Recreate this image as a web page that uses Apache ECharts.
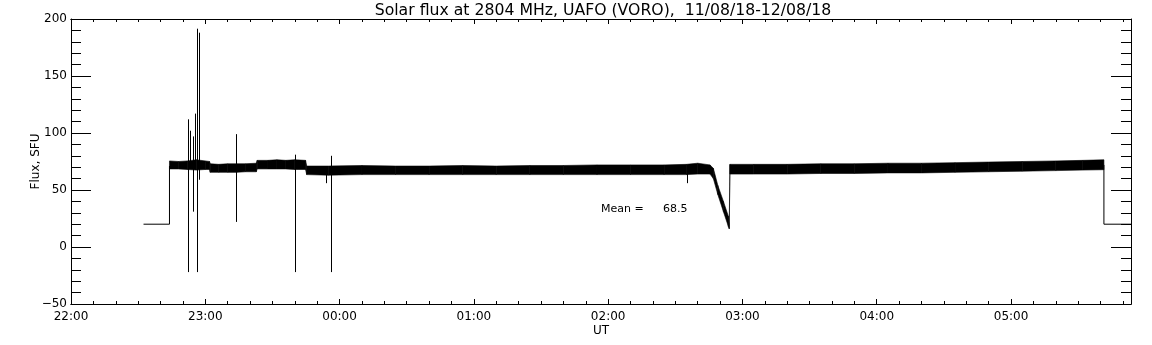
<!DOCTYPE html>
<html><head><meta charset="utf-8">
<script src="https://cdn.jsdelivr.net/npm/echarts@6/dist/echarts.min.js"></script>
<style>html,body{margin:0;padding:0;background:#fff}#c{width:1152px;height:345px}</style>
</head><body><div id="c"></div>
<script>
// ---- text ----
const titleText = 'Solar flux at 2804 MHz, UAFO (VORO),  11/08/18-12/08/18';
const xAxisName = 'UT';
const yAxisName = 'Flux, SFU';
const meanLabel = 'Mean =';
const meanValue = '68.5';

// ---- axes (x in minutes since 22:00 UT) ----
const startHour = 22;
const xMin = 0, xMax = 473.6;
const yMin = -50, yMax = 200;

// ---- flat (zero-signal) parts at the start and end ----
const startStepTimes  = [32.4, 44.0, 44.0];
const startStepValues = [20, 20, 71];
const endStepTimes    = [461.5, 461.5, 473.6];
const endStepValues   = [72, 20, 20];

// ---- noisy flux band: time, lower edge, upper edge ----
const bandTimes = [44.0, 48, 52, 56, 60, 61.9,
  62.2, 66, 70, 74, 78, 82.8,
  83.2, 88, 92, 96, 100, 104.8,
  105.3, 115, 130, 145, 160, 175, 190, 205, 220, 235, 250, 265, 275, 280, 285.5,
  287, 289, 291.5, 293.7, 294.1,
  294.4, 305, 320, 335, 350, 365, 380, 395, 410, 425, 440, 452, 461.5];
const bandLow = [68.5, 68.5, 68, 67.5, 68, 68,
  65.5, 65.5, 65.5, 65.5, 66, 66,
  68.5, 68.5, 68.5, 68.5, 68, 68,
  63.5, 63, 63.5, 63.5, 63.5, 63.5, 63.5, 63.5, 63.5, 63.5, 63.5, 63.5, 63.5, 64, 64,
  60, 46, 31, 18, 16,
  64, 64, 64, 64.5, 64.5, 65, 65, 65.5, 66, 66.5, 67, 67.5, 67.8];
const bandHigh = [75.5, 75, 75.5, 76.5, 75.5, 75,
  73, 72.5, 73, 73, 73, 73.5,
  76, 76, 76.5, 76, 76.5, 76,
  71, 71, 71.5, 71, 71, 71.5, 71, 71.5, 71.5, 72, 72, 72, 72.5, 73.5, 72,
  69, 54, 40, 27, 20,
  72.5, 72.5, 72.5, 73, 73, 73.5, 73.5, 74, 74.5, 75, 75.5, 76, 76.5];

// ---- spikes: time, low end, high end ----
const spikeTimes = [52.2, 53.0, 54.3, 54.7, 55.6, 56.5, 57.0, 73.5, 100.3, 114.0, 116.2, 275.2];
const spikeLows  = [-22, 70, 70, 31, 70, -22, 59, 22, -22, 56, -22, 56];
const spikeHighs = [112, 102, 97, 70, 117, 191.5, 188, 99, 81, 66, 80, 68];

const FONT = 'DejaVu Sans';
const hhmm = v => {
  if (Math.abs(v % 60) > 1e-6) return '';
  const h = (startHour + Math.round(v / 60)) % 24;
  return String(h).padStart(2, '0') + ':00';
};

const bandItems = bandTimes.slice(0, -1).map((t, i) =>
  [t, bandLow[i], bandHigh[i], bandTimes[i + 1], bandLow[i + 1], bandHigh[i + 1]]);
const spikeItems = spikeTimes.map((t, i) => [t, spikeLows[i], spikeHighs[i]]);

const black = '#000';
const baseX = (pos, interval, tickLen, labels) => ({
  type: 'value', position: pos, min: xMin, max: xMax, interval: interval,
  axisLine: { show: true, onZero: false, lineStyle: { color: black, width: 1 } },
  axisTick: { show: true, inside: true, length: tickLen, lineStyle: { color: black } },
  axisLabel: labels ? { show: true, formatter: hhmm, color: black, fontFamily: FONT, fontSize: 12, margin: 7 } : { show: false },
  splitLine: { show: false }
});
const baseY = (pos, labels) => ({
  type: 'value', position: pos, min: yMin, max: yMax, interval: 50,
  axisLine: { show: true, onZero: false, lineStyle: { color: black, width: 1 } },
  axisTick: { show: true, inside: true, length: 20, lineStyle: { color: black } },
  minorTick: { show: true, splitNumber: 5, length: 10, lineStyle: { color: black } },
  axisLabel: labels ? { show: true, color: black, fontFamily: FONT, fontSize: 12, margin: 4,
    formatter: v => v < 0 ? '\u2212' + Math.abs(v) : String(v) } : { show: false },
  splitLine: { show: false }
});

const xAxes = [baseX('bottom', 60, 5, true), baseX('bottom', 10, 3, false), baseX('top', 60, 5, false), baseX('top', 10, 3, false)];
Object.assign(xAxes[0], { name: xAxisName, nameLocation: 'middle', nameGap: 21, nameMoveOverlap: false,
  nameTextStyle: { color: black, fontFamily: FONT, fontSize: 12 } });
const yAxes = [baseY('left', true), baseY('right', false)];
Object.assign(yAxes[0], { name: yAxisName, nameLocation: 'middle', nameGap: 29, nameRotate: 90, nameMoveOverlap: false,
  nameTextStyle: { color: black, fontFamily: FONT, fontSize: 12 } });

const chart = echarts.init(document.getElementById('c'), null, { renderer: 'canvas' });
chart.setOption({
  animation: false,
  backgroundColor: '#fff',
  title: { text: titleText, left: 598, top: -2, textAlign: 'center',
    textStyle: { color: black, fontFamily: FONT, fontSize: 15.7, fontWeight: 'normal' } },
  grid: { left: 71, right: 21, top: 19, bottom: 41, containLabel: false },
  xAxis: xAxes,
  yAxis: yAxes,
  graphic: [
    { type: 'text', left: 601, top: 204, style: { text: meanLabel, fill: black, font: '11px "DejaVu Sans"' } },
    { type: 'text', left: 663, top: 204, style: { text: meanValue, fill: black, font: '11px "DejaVu Sans"' } }
  ],
  series: [
    { type: 'custom', xAxisIndex: 0, yAxisIndex: 0, data: bandItems, clip: true,
      encode: { x: [0, 3], y: [1, 2, 4, 5] },
      renderItem: (params, api) => {
        const a = api.coord([api.value(0), api.value(1)]);
        const b = api.coord([api.value(0), api.value(2)]);
        const c = api.coord([api.value(3), api.value(5)]);
        const d = api.coord([api.value(3), api.value(4)]);
        return { type: 'polygon', shape: { points: [a, b, c, d] },
          style: { fill: black, stroke: black, lineWidth: 0.6 } };
      } },
    { type: 'custom', xAxisIndex: 0, yAxisIndex: 0, data: spikeItems, clip: true,
      encode: { x: 0, y: [1, 2] },
      renderItem: (params, api) => {
        const p1 = api.coord([api.value(0), api.value(1)]);
        const p2 = api.coord([api.value(0), api.value(2)]);
        const x = Math.round(p1[0]) + 0.5;
        return { type: 'line', shape: { x1: x, y1: p1[1], x2: x, y2: p2[1] },
          style: { stroke: black, lineWidth: 1 } };
      } },
    { type: 'line', xAxisIndex: 0, yAxisIndex: 0, symbol: 'none',
      data: startStepTimes.map((t, i) => [t, startStepValues[i]]),
      lineStyle: { color: black, width: 1 } },
    { type: 'line', xAxisIndex: 0, yAxisIndex: 0, symbol: 'none',
      data: endStepTimes.map((t, i) => [t, endStepValues[i]]),
      lineStyle: { color: black, width: 1 } }
  ]
});
</script></body></html>
